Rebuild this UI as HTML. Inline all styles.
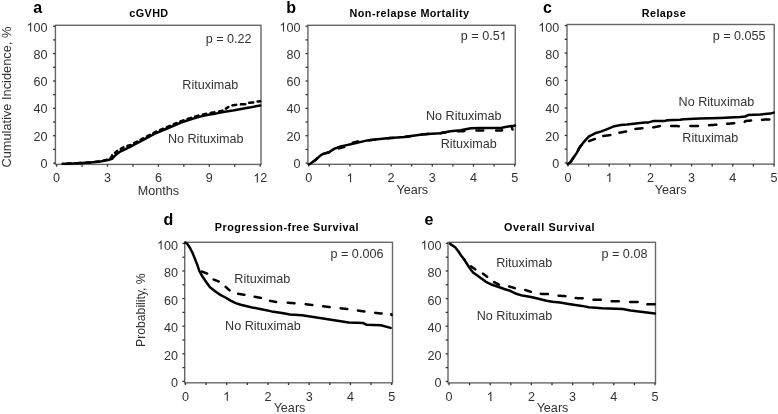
<!DOCTYPE html>
<html><head><meta charset="utf-8"><title>Figure</title>
<style>
html,body{margin:0;padding:0;background:#fff;}
body{width:778px;height:414px;overflow:hidden;}
svg{display:block;}
text{font-family:"Liberation Sans",sans-serif;fill:#333;}
svg{will-change:transform;}
</style></head>
<body>
<svg width="778" height="414" viewBox="0 0 778 414">
<rect width="778" height="414" fill="#fff"/>
<rect x="55.4" y="25.3" width="205.6" height="139.1" fill="none" stroke="#666" stroke-width="1.4"/>
<line x1="53.1" y1="26.20" x2="55.4" y2="26.20" stroke="#333" stroke-width="1.3"/>
<line x1="53.1" y1="39.89" x2="55.4" y2="39.89" stroke="#333" stroke-width="1.3"/>
<line x1="53.1" y1="53.58" x2="55.4" y2="53.58" stroke="#333" stroke-width="1.3"/>
<line x1="53.1" y1="67.27" x2="55.4" y2="67.27" stroke="#333" stroke-width="1.3"/>
<line x1="53.1" y1="80.96" x2="55.4" y2="80.96" stroke="#333" stroke-width="1.3"/>
<line x1="53.1" y1="94.65" x2="55.4" y2="94.65" stroke="#333" stroke-width="1.3"/>
<line x1="53.1" y1="108.34" x2="55.4" y2="108.34" stroke="#333" stroke-width="1.3"/>
<line x1="53.1" y1="122.03" x2="55.4" y2="122.03" stroke="#333" stroke-width="1.3"/>
<line x1="53.1" y1="135.72" x2="55.4" y2="135.72" stroke="#333" stroke-width="1.3"/>
<line x1="53.1" y1="149.41" x2="55.4" y2="149.41" stroke="#333" stroke-width="1.3"/>
<line x1="53.1" y1="163.10" x2="55.4" y2="163.10" stroke="#333" stroke-width="1.3"/>
<path d="M763,0H583V1147Q518,1085 412.5,1023T223,930V1104Q374,1175 487,1276T647,1472H763V0Z" transform="translate(26.48,31.60) scale(0.006152,-0.006152)" fill="#333"/>
<text x="33.48" y="31.6" font-size="12.6" text-anchor="start">00</text>
<text x="47.5" y="58.86" font-size="12.6" text-anchor="end">80</text>
<text x="47.5" y="86.12" font-size="12.6" text-anchor="end">60</text>
<text x="47.5" y="113.38" font-size="12.6" text-anchor="end">40</text>
<text x="47.5" y="140.64" font-size="12.6" text-anchor="end">20</text>
<text x="47.5" y="167.9" font-size="12.6" text-anchor="end">0</text>
<line x1="56.60" y1="164.4" x2="56.60" y2="166.70000000000002" stroke="#333" stroke-width="1.3"/>
<line x1="82.05" y1="164.4" x2="82.05" y2="166.70000000000002" stroke="#333" stroke-width="1.3"/>
<line x1="107.50" y1="164.4" x2="107.50" y2="166.70000000000002" stroke="#333" stroke-width="1.3"/>
<line x1="132.95" y1="164.4" x2="132.95" y2="166.70000000000002" stroke="#333" stroke-width="1.3"/>
<line x1="158.40" y1="164.4" x2="158.40" y2="166.70000000000002" stroke="#333" stroke-width="1.3"/>
<line x1="183.85" y1="164.4" x2="183.85" y2="166.70000000000002" stroke="#333" stroke-width="1.3"/>
<line x1="209.30" y1="164.4" x2="209.30" y2="166.70000000000002" stroke="#333" stroke-width="1.3"/>
<line x1="234.75" y1="164.4" x2="234.75" y2="166.70000000000002" stroke="#333" stroke-width="1.3"/>
<line x1="260.20" y1="164.4" x2="260.20" y2="166.70000000000002" stroke="#333" stroke-width="1.3"/>
<text x="56.6" y="182.4" font-size="12.6" text-anchor="middle">0</text>
<text x="107.5" y="182.4" font-size="12.6" text-anchor="middle">3</text>
<text x="158.4" y="182.4" font-size="12.6" text-anchor="middle">6</text>
<text x="209.3" y="182.4" font-size="12.6" text-anchor="middle">9</text>
<path d="M763,0H583V1147Q518,1085 412.5,1023T223,930V1104Q374,1175 487,1276T647,1472H763V0Z" transform="translate(253.19,182.40) scale(0.006152,-0.006152)" fill="#333"/>
<text x="260.2" y="182.4" font-size="12.6" text-anchor="start">2</text>
<rect x="307.9" y="25.3" width="207.39999999999998" height="139.0" fill="none" stroke="#666" stroke-width="1.4"/>
<line x1="305.59999999999997" y1="26.20" x2="307.9" y2="26.20" stroke="#333" stroke-width="1.3"/>
<line x1="305.59999999999997" y1="39.89" x2="307.9" y2="39.89" stroke="#333" stroke-width="1.3"/>
<line x1="305.59999999999997" y1="53.58" x2="307.9" y2="53.58" stroke="#333" stroke-width="1.3"/>
<line x1="305.59999999999997" y1="67.27" x2="307.9" y2="67.27" stroke="#333" stroke-width="1.3"/>
<line x1="305.59999999999997" y1="80.96" x2="307.9" y2="80.96" stroke="#333" stroke-width="1.3"/>
<line x1="305.59999999999997" y1="94.65" x2="307.9" y2="94.65" stroke="#333" stroke-width="1.3"/>
<line x1="305.59999999999997" y1="108.34" x2="307.9" y2="108.34" stroke="#333" stroke-width="1.3"/>
<line x1="305.59999999999997" y1="122.03" x2="307.9" y2="122.03" stroke="#333" stroke-width="1.3"/>
<line x1="305.59999999999997" y1="135.72" x2="307.9" y2="135.72" stroke="#333" stroke-width="1.3"/>
<line x1="305.59999999999997" y1="149.41" x2="307.9" y2="149.41" stroke="#333" stroke-width="1.3"/>
<line x1="305.59999999999997" y1="163.10" x2="307.9" y2="163.10" stroke="#333" stroke-width="1.3"/>
<path d="M763,0H583V1147Q518,1085 412.5,1023T223,930V1104Q374,1175 487,1276T647,1472H763V0Z" transform="translate(279.38,31.60) scale(0.006152,-0.006152)" fill="#333"/>
<text x="286.38" y="31.6" font-size="12.6" text-anchor="start">00</text>
<text x="300.4" y="58.86" font-size="12.6" text-anchor="end">80</text>
<text x="300.4" y="86.12" font-size="12.6" text-anchor="end">60</text>
<text x="300.4" y="113.38" font-size="12.6" text-anchor="end">40</text>
<text x="300.4" y="140.64" font-size="12.6" text-anchor="end">20</text>
<text x="300.4" y="167.9" font-size="12.6" text-anchor="end">0</text>
<line x1="308.70" y1="164.3" x2="308.70" y2="166.60000000000002" stroke="#333" stroke-width="1.3"/>
<line x1="329.30" y1="164.3" x2="329.30" y2="166.60000000000002" stroke="#333" stroke-width="1.3"/>
<line x1="349.90" y1="164.3" x2="349.90" y2="166.60000000000002" stroke="#333" stroke-width="1.3"/>
<line x1="370.50" y1="164.3" x2="370.50" y2="166.60000000000002" stroke="#333" stroke-width="1.3"/>
<line x1="391.10" y1="164.3" x2="391.10" y2="166.60000000000002" stroke="#333" stroke-width="1.3"/>
<line x1="411.70" y1="164.3" x2="411.70" y2="166.60000000000002" stroke="#333" stroke-width="1.3"/>
<line x1="432.30" y1="164.3" x2="432.30" y2="166.60000000000002" stroke="#333" stroke-width="1.3"/>
<line x1="452.90" y1="164.3" x2="452.90" y2="166.60000000000002" stroke="#333" stroke-width="1.3"/>
<line x1="473.50" y1="164.3" x2="473.50" y2="166.60000000000002" stroke="#333" stroke-width="1.3"/>
<line x1="494.10" y1="164.3" x2="494.10" y2="166.60000000000002" stroke="#333" stroke-width="1.3"/>
<line x1="514.70" y1="164.3" x2="514.70" y2="166.60000000000002" stroke="#333" stroke-width="1.3"/>
<text x="308.7" y="182.3" font-size="12.6" text-anchor="middle">0</text>
<path d="M763,0H583V1147Q518,1085 412.5,1023T223,930V1104Q374,1175 487,1276T647,1472H763V0Z" transform="translate(346.40,182.30) scale(0.006152,-0.006152)" fill="#333"/>
<text x="391.1" y="182.3" font-size="12.6" text-anchor="middle">2</text>
<text x="432.3" y="182.3" font-size="12.6" text-anchor="middle">3</text>
<text x="473.5" y="182.3" font-size="12.6" text-anchor="middle">4</text>
<text x="514.7" y="182.3" font-size="12.6" text-anchor="middle">5</text>
<rect x="567.0" y="24.5" width="207.20000000000005" height="139.6" fill="none" stroke="#666" stroke-width="1.4"/>
<line x1="564.7" y1="25.60" x2="567.0" y2="25.60" stroke="#333" stroke-width="1.3"/>
<line x1="564.7" y1="39.33" x2="567.0" y2="39.33" stroke="#333" stroke-width="1.3"/>
<line x1="564.7" y1="53.06" x2="567.0" y2="53.06" stroke="#333" stroke-width="1.3"/>
<line x1="564.7" y1="66.79" x2="567.0" y2="66.79" stroke="#333" stroke-width="1.3"/>
<line x1="564.7" y1="80.52" x2="567.0" y2="80.52" stroke="#333" stroke-width="1.3"/>
<line x1="564.7" y1="94.25" x2="567.0" y2="94.25" stroke="#333" stroke-width="1.3"/>
<line x1="564.7" y1="107.98" x2="567.0" y2="107.98" stroke="#333" stroke-width="1.3"/>
<line x1="564.7" y1="121.71" x2="567.0" y2="121.71" stroke="#333" stroke-width="1.3"/>
<line x1="564.7" y1="135.44" x2="567.0" y2="135.44" stroke="#333" stroke-width="1.3"/>
<line x1="564.7" y1="149.17" x2="567.0" y2="149.17" stroke="#333" stroke-width="1.3"/>
<line x1="564.7" y1="162.90" x2="567.0" y2="162.90" stroke="#333" stroke-width="1.3"/>
<path d="M763,0H583V1147Q518,1085 412.5,1023T223,930V1104Q374,1175 487,1276T647,1472H763V0Z" transform="translate(538.28,31.70) scale(0.006152,-0.006152)" fill="#333"/>
<text x="545.28" y="31.7" font-size="12.6" text-anchor="start">00</text>
<text x="559.3" y="58.96" font-size="12.6" text-anchor="end">80</text>
<text x="559.3" y="86.22" font-size="12.6" text-anchor="end">60</text>
<text x="559.3" y="113.48" font-size="12.6" text-anchor="end">40</text>
<text x="559.3" y="140.74" font-size="12.6" text-anchor="end">20</text>
<text x="559.3" y="168.0" font-size="12.6" text-anchor="end">0</text>
<line x1="568.00" y1="164.1" x2="568.00" y2="166.4" stroke="#333" stroke-width="1.3"/>
<line x1="588.60" y1="164.1" x2="588.60" y2="166.4" stroke="#333" stroke-width="1.3"/>
<line x1="609.20" y1="164.1" x2="609.20" y2="166.4" stroke="#333" stroke-width="1.3"/>
<line x1="629.80" y1="164.1" x2="629.80" y2="166.4" stroke="#333" stroke-width="1.3"/>
<line x1="650.40" y1="164.1" x2="650.40" y2="166.4" stroke="#333" stroke-width="1.3"/>
<line x1="671.00" y1="164.1" x2="671.00" y2="166.4" stroke="#333" stroke-width="1.3"/>
<line x1="691.60" y1="164.1" x2="691.60" y2="166.4" stroke="#333" stroke-width="1.3"/>
<line x1="712.20" y1="164.1" x2="712.20" y2="166.4" stroke="#333" stroke-width="1.3"/>
<line x1="732.80" y1="164.1" x2="732.80" y2="166.4" stroke="#333" stroke-width="1.3"/>
<line x1="753.40" y1="164.1" x2="753.40" y2="166.4" stroke="#333" stroke-width="1.3"/>
<line x1="774.00" y1="164.1" x2="774.00" y2="166.4" stroke="#333" stroke-width="1.3"/>
<text x="568.0" y="182.1" font-size="12.6" text-anchor="middle">0</text>
<path d="M763,0H583V1147Q518,1085 412.5,1023T223,930V1104Q374,1175 487,1276T647,1472H763V0Z" transform="translate(605.70,182.10) scale(0.006152,-0.006152)" fill="#333"/>
<text x="650.4" y="182.1" font-size="12.6" text-anchor="middle">2</text>
<text x="691.6" y="182.1" font-size="12.6" text-anchor="middle">3</text>
<text x="732.8" y="182.1" font-size="12.6" text-anchor="middle">4</text>
<text x="774.0" y="182.1" font-size="12.6" text-anchor="middle">5</text>
<rect x="184.7" y="242.3" width="207.8" height="140.5" fill="none" stroke="#666" stroke-width="1.4"/>
<line x1="182.39999999999998" y1="243.40" x2="184.7" y2="243.40" stroke="#333" stroke-width="1.3"/>
<line x1="182.39999999999998" y1="257.20" x2="184.7" y2="257.20" stroke="#333" stroke-width="1.3"/>
<line x1="182.39999999999998" y1="271.00" x2="184.7" y2="271.00" stroke="#333" stroke-width="1.3"/>
<line x1="182.39999999999998" y1="284.80" x2="184.7" y2="284.80" stroke="#333" stroke-width="1.3"/>
<line x1="182.39999999999998" y1="298.60" x2="184.7" y2="298.60" stroke="#333" stroke-width="1.3"/>
<line x1="182.39999999999998" y1="312.40" x2="184.7" y2="312.40" stroke="#333" stroke-width="1.3"/>
<line x1="182.39999999999998" y1="326.20" x2="184.7" y2="326.20" stroke="#333" stroke-width="1.3"/>
<line x1="182.39999999999998" y1="340.00" x2="184.7" y2="340.00" stroke="#333" stroke-width="1.3"/>
<line x1="182.39999999999998" y1="353.80" x2="184.7" y2="353.80" stroke="#333" stroke-width="1.3"/>
<line x1="182.39999999999998" y1="367.60" x2="184.7" y2="367.60" stroke="#333" stroke-width="1.3"/>
<line x1="182.39999999999998" y1="381.40" x2="184.7" y2="381.40" stroke="#333" stroke-width="1.3"/>
<path d="M763,0H583V1147Q518,1085 412.5,1023T223,930V1104Q374,1175 487,1276T647,1472H763V0Z" transform="translate(156.98,249.60) scale(0.006152,-0.006152)" fill="#333"/>
<text x="163.98" y="249.6" font-size="12.6" text-anchor="start">00</text>
<text x="178.0" y="277.14" font-size="12.6" text-anchor="end">80</text>
<text x="178.0" y="304.68" font-size="12.6" text-anchor="end">60</text>
<text x="178.0" y="332.22" font-size="12.6" text-anchor="end">40</text>
<text x="178.0" y="359.76" font-size="12.6" text-anchor="end">20</text>
<text x="178.0" y="387.3" font-size="12.6" text-anchor="end">0</text>
<line x1="185.40" y1="382.8" x2="185.40" y2="385.1" stroke="#333" stroke-width="1.3"/>
<line x1="206.03" y1="382.8" x2="206.03" y2="385.1" stroke="#333" stroke-width="1.3"/>
<line x1="226.66" y1="382.8" x2="226.66" y2="385.1" stroke="#333" stroke-width="1.3"/>
<line x1="247.29" y1="382.8" x2="247.29" y2="385.1" stroke="#333" stroke-width="1.3"/>
<line x1="267.92" y1="382.8" x2="267.92" y2="385.1" stroke="#333" stroke-width="1.3"/>
<line x1="288.55" y1="382.8" x2="288.55" y2="385.1" stroke="#333" stroke-width="1.3"/>
<line x1="309.18" y1="382.8" x2="309.18" y2="385.1" stroke="#333" stroke-width="1.3"/>
<line x1="329.81" y1="382.8" x2="329.81" y2="385.1" stroke="#333" stroke-width="1.3"/>
<line x1="350.44" y1="382.8" x2="350.44" y2="385.1" stroke="#333" stroke-width="1.3"/>
<line x1="371.07" y1="382.8" x2="371.07" y2="385.1" stroke="#333" stroke-width="1.3"/>
<line x1="391.70" y1="382.8" x2="391.70" y2="385.1" stroke="#333" stroke-width="1.3"/>
<text x="185.4" y="400.8" font-size="12.6" text-anchor="middle">0</text>
<path d="M763,0H583V1147Q518,1085 412.5,1023T223,930V1104Q374,1175 487,1276T647,1472H763V0Z" transform="translate(223.16,400.80) scale(0.006152,-0.006152)" fill="#333"/>
<text x="267.92" y="400.8" font-size="12.6" text-anchor="middle">2</text>
<text x="309.18" y="400.8" font-size="12.6" text-anchor="middle">3</text>
<text x="350.44" y="400.8" font-size="12.6" text-anchor="middle">4</text>
<text x="391.7" y="400.8" font-size="12.6" text-anchor="middle">5</text>
<rect x="448.0" y="242.3" width="207.5" height="140.59999999999997" fill="none" stroke="#666" stroke-width="1.4"/>
<line x1="445.7" y1="243.40" x2="448.0" y2="243.40" stroke="#333" stroke-width="1.3"/>
<line x1="445.7" y1="257.20" x2="448.0" y2="257.20" stroke="#333" stroke-width="1.3"/>
<line x1="445.7" y1="271.00" x2="448.0" y2="271.00" stroke="#333" stroke-width="1.3"/>
<line x1="445.7" y1="284.80" x2="448.0" y2="284.80" stroke="#333" stroke-width="1.3"/>
<line x1="445.7" y1="298.60" x2="448.0" y2="298.60" stroke="#333" stroke-width="1.3"/>
<line x1="445.7" y1="312.40" x2="448.0" y2="312.40" stroke="#333" stroke-width="1.3"/>
<line x1="445.7" y1="326.20" x2="448.0" y2="326.20" stroke="#333" stroke-width="1.3"/>
<line x1="445.7" y1="340.00" x2="448.0" y2="340.00" stroke="#333" stroke-width="1.3"/>
<line x1="445.7" y1="353.80" x2="448.0" y2="353.80" stroke="#333" stroke-width="1.3"/>
<line x1="445.7" y1="367.60" x2="448.0" y2="367.60" stroke="#333" stroke-width="1.3"/>
<line x1="445.7" y1="381.40" x2="448.0" y2="381.40" stroke="#333" stroke-width="1.3"/>
<path d="M763,0H583V1147Q518,1085 412.5,1023T223,930V1104Q374,1175 487,1276T647,1472H763V0Z" transform="translate(420.58,249.50) scale(0.006152,-0.006152)" fill="#333"/>
<text x="427.58" y="249.5" font-size="12.6" text-anchor="start">00</text>
<text x="441.6" y="277.06" font-size="12.6" text-anchor="end">80</text>
<text x="441.6" y="304.62" font-size="12.6" text-anchor="end">60</text>
<text x="441.6" y="332.18" font-size="12.6" text-anchor="end">40</text>
<text x="441.6" y="359.74" font-size="12.6" text-anchor="end">20</text>
<text x="441.6" y="387.3" font-size="12.6" text-anchor="end">0</text>
<line x1="449.00" y1="382.9" x2="449.00" y2="385.2" stroke="#333" stroke-width="1.3"/>
<line x1="469.60" y1="382.9" x2="469.60" y2="385.2" stroke="#333" stroke-width="1.3"/>
<line x1="490.20" y1="382.9" x2="490.20" y2="385.2" stroke="#333" stroke-width="1.3"/>
<line x1="510.80" y1="382.9" x2="510.80" y2="385.2" stroke="#333" stroke-width="1.3"/>
<line x1="531.40" y1="382.9" x2="531.40" y2="385.2" stroke="#333" stroke-width="1.3"/>
<line x1="552.00" y1="382.9" x2="552.00" y2="385.2" stroke="#333" stroke-width="1.3"/>
<line x1="572.60" y1="382.9" x2="572.60" y2="385.2" stroke="#333" stroke-width="1.3"/>
<line x1="593.20" y1="382.9" x2="593.20" y2="385.2" stroke="#333" stroke-width="1.3"/>
<line x1="613.80" y1="382.9" x2="613.80" y2="385.2" stroke="#333" stroke-width="1.3"/>
<line x1="634.40" y1="382.9" x2="634.40" y2="385.2" stroke="#333" stroke-width="1.3"/>
<line x1="655.00" y1="382.9" x2="655.00" y2="385.2" stroke="#333" stroke-width="1.3"/>
<text x="449.0" y="400.9" font-size="12.6" text-anchor="middle">0</text>
<path d="M763,0H583V1147Q518,1085 412.5,1023T223,930V1104Q374,1175 487,1276T647,1472H763V0Z" transform="translate(486.70,400.90) scale(0.006152,-0.006152)" fill="#333"/>
<text x="531.4" y="400.9" font-size="12.6" text-anchor="middle">2</text>
<text x="572.6" y="400.9" font-size="12.6" text-anchor="middle">3</text>
<text x="613.8" y="400.9" font-size="12.6" text-anchor="middle">4</text>
<text x="655.0" y="400.9" font-size="12.6" text-anchor="middle">5</text>
<text x="158.5" y="194.5" font-size="12.6" text-anchor="middle">Months</text>
<text x="412.3" y="194.0" font-size="12.6" text-anchor="middle">Years</text>
<text x="670.6" y="194.0" font-size="12.6" text-anchor="middle">Years</text>
<text x="289.5" y="412.2" font-size="12.6" text-anchor="middle">Years</text>
<text x="552.5" y="412.0" font-size="12.6" text-anchor="middle">Years</text>
<text transform="translate(11.2,97.1) rotate(-90)" font-size="12.8" text-anchor="middle">Cumulative Incidence, %</text>
<text transform="translate(145.0,310.1) rotate(-90)" font-size="12.2" text-anchor="middle">Probability, %</text>
<text x="33.2" y="12.6" font-size="16" text-anchor="start" font-weight="bold" style="fill:#000">a</text>
<text x="286.2" y="12.8" font-size="16" text-anchor="start" font-weight="bold" style="fill:#000">b</text>
<text x="543.0" y="12.7" font-size="16" text-anchor="start" font-weight="bold" style="fill:#000">c</text>
<text x="163.4" y="225.3" font-size="16" text-anchor="start" font-weight="bold" style="fill:#000">d</text>
<text x="424.5" y="225.0" font-size="16" text-anchor="start" font-weight="bold" style="fill:#000">e</text>
<text x="148.9" y="17.3" font-size="10.8" text-anchor="middle" font-weight="bold" style="fill:#000" letter-spacing="0.45">cGVHD</text>
<text x="409.5" y="17.1" font-size="10.8" text-anchor="middle" font-weight="bold" style="fill:#000" letter-spacing="0.45">Non-relapse Mortality</text>
<text x="664.0" y="17.3" font-size="10.8" text-anchor="middle" font-weight="bold" style="fill:#000" letter-spacing="0.45">Relapse</text>
<text x="286.9" y="231.0" font-size="10.8" text-anchor="middle" font-weight="bold" style="fill:#000" letter-spacing="0.52">Progression-free Survival</text>
<text x="549.6" y="231.0" font-size="10.8" text-anchor="middle" font-weight="bold" style="fill:#000" letter-spacing="0.6">Overall Survival</text>
<text x="251.6" y="42.6" font-size="12.6" text-anchor="end">p = 0.22</text>
<text x="460.81" y="40.2" font-size="12.6" text-anchor="start">p&#160;=&#160;0.5</text>
<path d="M763,0H583V1147Q518,1085 412.5,1023T223,930V1104Q374,1175 487,1276T647,1472H763V0Z" transform="translate(499.69,40.20) scale(0.006152,-0.006152)" fill="#333"/>
<text x="765.6" y="40.1" font-size="12.6" text-anchor="end">p = 0.055</text>
<text x="383.4" y="257.8" font-size="12.6" text-anchor="end">p = 0.006</text>
<text x="647.4" y="257.6" font-size="12.6" text-anchor="end">p = 0.08</text>
<text x="182.3" y="88.9" font-size="12.6" text-anchor="start">Rituximab</text>
<text x="167.9" y="142.7" font-size="12.6" text-anchor="start">No Rituximab</text>
<text x="426.0" y="120.4" font-size="12.6" text-anchor="start">No Rituximab</text>
<text x="440.7" y="147.9" font-size="12.6" text-anchor="start">Rituximab</text>
<text x="678.6" y="105.7" font-size="12.6" text-anchor="start">No Rituximab</text>
<text x="682.3" y="142.3" font-size="12.6" text-anchor="start">Rituximab</text>
<text x="234.3" y="282.8" font-size="12.6" text-anchor="start">Rituximab</text>
<text x="225.1" y="329.6" font-size="12.6" text-anchor="start">No Rituximab</text>
<text x="496.2" y="266.9" font-size="12.6" text-anchor="start">Rituximab</text>
<text x="476.7" y="320.4" font-size="12.6" text-anchor="start">No Rituximab</text>
<polyline points="62.70,163.80 73.00,163.60 82.00,163.00 91.00,162.40 100.00,161.60 105.40,160.50 109.00,159.70 112.00,158.90 114.00,156.60 116.80,154.00 119.70,151.90 123.40,150.20 127.00,148.30 130.60,146.60 134.20,144.60 138.00,142.70 144.20,139.30 156.20,133.00 168.30,128.00 180.40,122.80 192.50,118.70 200.00,116.60 208.20,114.70 216.40,113.40 224.70,111.70 232.90,110.50 241.10,109.00 249.30,107.60 257.60,105.90 260.20,105.60" fill="none" stroke="#000" stroke-width="2.5" stroke-linejoin="round" stroke-linecap="round"/>
<path d="M67.55,163.61 L67.75,163.60 L67.95,163.60 L68.15,163.59 L68.35,163.59 L68.56,163.59 L68.76,163.58 L68.96,163.58 L69.16,163.57 L69.36,163.57 L69.57,163.57 L69.77,163.56 L69.97,163.56 L70.17,163.55 L70.37,163.55 L70.58,163.55 L70.78,163.54 L70.98,163.54 L71.18,163.54 L71.38,163.53 L71.59,163.53 L71.79,163.52 M76.80,163.25 L77.00,163.23 L77.20,163.22 L77.40,163.21 L77.60,163.19 L77.80,163.18 L78.00,163.17 L78.20,163.15 L78.40,163.14 L78.60,163.13 L78.80,163.11 L79.00,163.10 L79.20,163.09 L79.40,163.07 L79.60,163.06 L79.80,163.05 L80.00,163.03 L80.20,163.02 L80.40,163.01 L80.60,162.99 L80.80,162.98 M86.00,162.63 L86.20,162.62 L86.40,162.61 L86.60,162.59 L86.80,162.58 L87.00,162.57 L87.20,162.55 L87.40,162.54 L87.60,162.53 L87.80,162.51 L88.00,162.50 L88.20,162.49 L88.40,162.47 L88.60,162.46 L88.80,162.45 L89.00,162.43 L89.20,162.42 L89.40,162.41 L89.60,162.39 L89.80,162.38 L90.00,162.37 M95.00,161.90 L95.20,161.88 L95.40,161.86 L95.60,161.84 L95.80,161.82 L96.00,161.80 L96.20,161.78 L96.40,161.76 L96.60,161.74 L96.80,161.72 L97.00,161.70 L97.20,161.68 L97.40,161.66 L97.60,161.64 L97.80,161.62 L98.00,161.60 L98.20,161.58 L98.40,161.56 L98.60,161.54 L98.80,161.52 M103.40,160.64 L103.60,160.60 L103.80,160.56 L104.00,160.51 L104.20,160.47 L104.40,160.42 L104.60,160.38 L104.80,160.33 L105.00,160.29 L105.20,160.24 L105.40,160.20 L105.61,160.14 L105.82,160.07 L106.04,160.01 L106.25,159.94 L106.46,159.88 L106.67,159.81 M110.60,158.06 L110.80,157.93 L111.00,157.80 L111.09,157.60 L111.19,157.40 L111.28,157.20 L111.37,157.00 L111.46,156.80 L111.56,156.60 L111.65,156.40 L111.74,156.20 L111.84,156.00 L111.93,155.80 L112.02,155.60 L112.11,155.40 M115.05,152.73 L115.27,152.54 L115.49,152.35 L115.71,152.15 L115.93,151.96 L116.15,151.77 L116.36,151.58 L116.58,151.39 L116.80,151.20 L117.01,151.07 L117.21,150.94 M120.73,148.84 L120.93,148.73 L121.14,148.62 L121.34,148.51 L121.55,148.40 L121.76,148.29 L121.96,148.18 L122.17,148.07 L122.37,147.96 L122.58,147.84 L122.78,147.73 L122.99,147.62 L123.19,147.51 L123.40,147.40 M127.42,145.88 L127.64,145.82 L127.85,145.76 L128.06,145.71 L128.27,145.65 L128.48,145.59 L128.69,145.53 L128.91,145.47 L129.12,145.41 L129.33,145.35 L129.54,145.29 L129.75,145.24 L129.96,145.18 L130.18,145.12 L130.39,145.06 L130.60,145.00 M134.20,143.00 L134.40,142.91 L134.60,142.81 L134.80,142.72 L135.00,142.62 L135.20,142.53 L135.40,142.43 L135.60,142.34 L135.80,142.24 L136.00,142.15 L136.20,142.05 L136.40,141.96 L136.60,141.86 L136.80,141.77 L137.00,141.67 M140.69,139.73 L140.89,139.61 L141.10,139.50 L141.31,139.39 L141.51,139.27 L141.72,139.16 L141.93,139.05 L142.13,138.93 L142.34,138.82 L142.55,138.71 L142.75,138.59 L142.96,138.48 L143.17,138.37 L143.37,138.25 M147.00,136.35 L147.20,136.25 L147.40,136.15 L147.60,136.04 L147.80,135.94 L148.00,135.84 L148.20,135.73 L148.40,135.63 L148.60,135.53 L148.80,135.42 L149.00,135.32 L149.20,135.22 L149.40,135.11 L149.60,135.01 L149.80,134.91 M153.40,133.05 L153.60,132.94 L153.80,132.84 L154.00,132.74 L154.20,132.63 L154.40,132.53 L154.60,132.43 L154.80,132.32 L155.00,132.22 L155.20,132.12 L155.40,132.01 L155.60,131.91 L155.80,131.81 L156.00,131.70 L156.20,131.60 M160.03,130.02 L160.23,129.93 L160.44,129.85 L160.64,129.77 L160.84,129.68 L161.04,129.60 L161.24,129.52 L161.44,129.43 L161.65,129.35 L161.85,129.27 L162.05,129.18 L162.25,129.10 L162.45,129.02 L162.65,128.93 L162.85,128.85 L163.06,128.77 M166.89,127.18 L167.09,127.10 L167.29,127.02 L167.49,126.93 L167.70,126.85 L167.90,126.77 L168.10,126.68 L168.30,126.60 L168.50,126.51 L168.70,126.43 L168.91,126.34 L169.11,126.25 L169.31,126.17 L169.51,126.08 L169.71,125.99 L169.91,125.91 M173.75,124.26 L173.95,124.17 L174.15,124.09 L174.35,124.00 L174.55,123.91 L174.75,123.83 L174.96,123.74 L175.16,123.65 L175.36,123.57 L175.56,123.48 L175.76,123.39 L175.96,123.31 L176.17,123.22 L176.37,123.13 L176.57,123.05 M180.40,121.40 L180.60,121.33 L180.80,121.26 L181.00,121.20 L181.21,121.13 L181.41,121.06 L181.61,120.99 L181.81,120.92 L182.01,120.85 L182.22,120.79 L182.42,120.72 L182.62,120.65 L182.82,120.58 L183.02,120.51 L183.22,120.44 L183.43,120.38 L183.63,120.31 M187.66,118.94 L187.86,118.87 L188.06,118.80 L188.27,118.73 L188.47,118.67 L188.67,118.60 L188.87,118.53 L189.07,118.46 L189.27,118.39 L189.47,118.33 L189.68,118.26 L189.88,118.19 L190.08,118.12 L190.28,118.05 L190.48,117.98 L190.69,117.91 L190.89,117.85 M195.14,116.56 L195.34,116.51 L195.54,116.45 L195.74,116.39 L195.95,116.34 L196.15,116.28 L196.35,116.22 L196.55,116.16 L196.76,116.11 L196.96,116.05 L197.16,115.99 L197.36,115.94 L197.57,115.88 L197.77,115.82 L197.97,115.77 L198.18,115.71 L198.38,115.65 M202.87,114.53 L203.07,114.49 L203.28,114.44 L203.48,114.39 L203.69,114.34 L203.89,114.30 L204.10,114.25 L204.31,114.20 L204.51,114.16 L204.72,114.11 L204.92,114.06 L205.12,114.01 L205.33,113.97 L205.53,113.92 L205.74,113.87 L205.94,113.82 L206.15,113.78 M210.80,112.89 L211.00,112.86 L211.20,112.82 L211.40,112.79 L211.60,112.76 L211.80,112.73 L212.00,112.70 L212.20,112.67 L212.40,112.63 L212.60,112.60 L212.80,112.57 L213.00,112.54 L213.20,112.51 L213.40,112.48 L213.60,112.44 L213.80,112.41 L214.00,112.38 L214.20,112.35 L214.40,112.32 M219.10,111.42 L219.30,111.38 L219.51,111.33 L219.72,111.29 L219.93,111.24 L220.13,111.20 L220.34,111.16 L220.55,111.11 L220.76,111.07 L220.96,111.02 L221.17,110.98 L221.38,110.93 L221.59,110.89 L221.79,110.84 L222.00,110.80 L222.21,110.70 L222.42,110.60 M225.94,108.61 L226.15,108.47 L226.35,108.33 L226.56,108.19 L226.76,108.05 L226.97,107.91 L227.18,107.76 L227.38,107.62 L227.59,107.48 L227.79,107.34 L228.00,107.20 L228.20,107.09 L228.40,106.97 M232.40,105.38 L232.60,105.35 L232.80,105.32 L233.00,105.29 L233.20,105.26 L233.40,105.24 L233.60,105.21 L233.80,105.18 L234.00,105.15 L234.20,105.12 L234.40,105.10 L234.60,105.07 L234.80,105.04 L235.00,105.01 L235.20,104.98 L235.40,104.96 L235.60,104.93 L235.80,104.90 L236.01,104.87 L236.21,104.84 M240.94,104.36 L241.15,104.35 L241.36,104.34 L241.56,104.34 L241.77,104.33 L241.97,104.33 L242.18,104.32 L242.39,104.31 L242.59,104.31 L242.80,104.30 L243.01,104.29 L243.21,104.29 L243.42,104.28 L243.62,104.28 L243.83,104.27 L244.04,104.26 L244.24,104.26 L244.45,104.25 L244.66,104.24 L244.86,104.24 L245.07,104.23 L245.28,104.23 M249.10,102.72 L249.30,102.71 L249.50,102.70 L249.70,102.70 L249.90,102.69 L250.10,102.68 L250.30,102.67 L250.50,102.66 L250.70,102.65 L250.90,102.64 L251.10,102.63 L251.30,102.62 L251.50,102.61 L251.70,102.60 L251.90,102.59 L252.10,102.58 L252.30,102.57 L252.50,102.56 L252.70,102.55 L252.90,102.54 L253.10,102.53 L253.30,102.52 M257.60,101.60 L257.82,101.57 L258.03,101.55 L258.25,101.52 L258.47,101.50 L258.68,101.47 L258.90,101.45 L259.12,101.42 L259.33,101.40 L259.55,101.38 L259.77,101.35 L259.98,101.33 L260.20,101.30" fill="none" stroke="#000" stroke-width="2.5" stroke-linejoin="round" stroke-linecap="round"/>
<polyline points="309.20,164.20 310.20,163.80 315.40,160.00 320.60,155.40 323.20,153.90 328.90,152.20 334.10,148.90 339.30,146.80 346.60,145.10 351.80,144.00 357.00,142.70 362.10,141.60 367.30,140.40 377.70,139.30 387.00,138.30 404.30,137.00 423.60,134.30 440.00,133.30 450.30,131.30 460.60,130.20 470.80,128.30 481.10,128.10 491.40,128.10 501.70,127.80 506.80,126.70 514.00,125.70 515.00,125.50" fill="none" stroke="#000" stroke-width="2.5" stroke-linejoin="round" stroke-linecap="round"/>
<path d="M313.11,161.67 L313.32,161.52 L313.53,161.37 L313.74,161.22 L313.94,161.06 L314.15,160.91 L314.36,160.76 L314.57,160.61 L314.78,160.46 L314.98,160.30 L315.19,160.15 L315.40,160.00 L315.60,159.82 L315.80,159.65 L316.00,159.47 L316.20,159.29 L316.40,159.12 L316.60,158.94 L316.80,158.76 M324.42,153.58 L324.62,153.53 L324.83,153.47 L325.03,153.42 L325.24,153.36 L325.44,153.31 L325.64,153.26 L325.85,153.20 L326.05,153.15 L326.25,153.10 L326.46,153.04 L326.66,152.99 L326.86,152.94 L327.07,152.88 L327.27,152.83 L327.47,152.78 L327.68,152.72 L327.88,152.67 L328.09,152.61 L328.29,152.56 L328.49,152.51 L328.70,152.45 L328.90,152.40 L329.10,152.29 L329.30,152.18 L329.50,152.08 M338.68,148.37 L338.88,148.31 L339.09,148.26 L339.30,148.20 L339.50,148.15 L339.71,148.10 L339.91,148.05 L340.11,148.00 L340.31,147.95 L340.52,147.90 L340.72,147.85 L340.92,147.80 L341.12,147.75 L341.33,147.70 L341.53,147.65 L341.73,147.60 L341.94,147.55 L342.14,147.50 L342.34,147.45 L342.54,147.40 L342.75,147.35 L342.95,147.30 L343.15,147.25 L343.36,147.20 L343.56,147.15 L343.76,147.10 L343.96,147.05 L344.17,147.00 M352.63,142.69 L352.84,142.64 L353.05,142.59 L353.26,142.54 L353.46,142.48 L353.67,142.43 L353.88,142.38 L354.09,142.33 L354.30,142.28 L354.50,142.22 L354.71,142.17 L354.92,142.12 L355.13,142.07 L355.34,142.02 L355.54,141.96 L355.75,141.91 L355.96,141.86 L356.17,141.81 L356.38,141.76 L356.58,141.70 L356.79,141.65 L357.00,141.60 L357.20,141.59 L357.40,141.57 L357.60,141.56 L357.80,141.55 L358.00,141.53 L358.20,141.52 M369.14,140.21 L369.34,140.18 L369.54,140.16 L369.75,140.14 L369.95,140.12 L370.15,140.10 L370.36,140.08 L370.56,140.05 L370.77,140.03 L370.97,140.01 L371.17,139.99 L371.38,139.97 L371.58,139.95 L371.79,139.93 L371.99,139.90 L372.19,139.88 L372.40,139.86 L372.60,139.84 L372.81,139.82 L373.01,139.80 L373.21,139.77 L373.42,139.75 L373.62,139.73 L373.83,139.71 L374.03,139.69 L374.23,139.67 L374.44,139.65 L374.64,139.62 L374.85,139.60 L375.05,139.58 L375.25,139.56 M386.80,138.32 L387.00,138.30 L387.20,138.28 L387.40,138.27 L387.60,138.25 L387.80,138.24 L388.01,138.22 L388.21,138.21 L388.41,138.19 L388.61,138.18 L388.81,138.16 L389.01,138.15 L389.21,138.13 L389.41,138.12 L389.62,138.10 L389.82,138.09 L390.02,138.07 L390.22,138.06 L390.42,138.04 L390.62,138.03 L390.82,138.01 L391.02,138.00 L391.22,137.98 L391.43,137.97 L391.63,137.95 L391.83,137.94 L392.03,137.92 L392.23,137.91 L392.43,137.89 L392.63,137.88 L392.83,137.86 L393.03,137.85 M404.90,136.92 L405.10,136.89 L405.31,136.86 L405.51,136.83 L405.71,136.80 L405.91,136.78 L406.11,136.75 L406.31,136.72 L406.51,136.69 L406.71,136.66 L406.91,136.63 L407.11,136.61 L407.32,136.58 L407.52,136.55 L407.72,136.52 L407.92,136.49 L408.12,136.47 L408.32,136.44 L408.52,136.41 L408.72,136.38 L408.92,136.35 L409.12,136.32 L409.33,136.30 L409.53,136.27 L409.73,136.24 L409.93,136.21 L410.13,136.18 L410.33,136.16 L410.53,136.13 L410.73,136.10 M421.99,134.53 L422.19,134.50 L422.39,134.47 L422.59,134.44 L422.80,134.41 L423.00,134.38 L423.20,134.36 L423.40,134.33 L423.60,134.30 L423.80,134.29 L424.00,134.28 L424.21,134.26 L424.41,134.25 L424.61,134.24 L424.81,134.23 L425.02,134.21 L425.22,134.20 L425.42,134.19 L425.62,134.18 L425.83,134.16 L426.03,134.15 L426.23,134.14 L426.43,134.13 L426.64,134.11 L426.84,134.10 L427.04,134.09 L427.24,134.08 L427.45,134.07 L427.65,134.05 L427.85,134.04 L428.05,134.03 L428.26,134.02 M440.20,133.26 L440.40,133.23 L440.61,133.19 L440.81,133.16 L441.01,133.12 L441.21,133.09 L441.41,133.05 L441.62,133.02 L441.82,132.98 L442.02,132.95 L442.22,132.91 L442.42,132.88 L442.63,132.84 L442.83,132.81 L443.03,132.77 L443.23,132.74 L443.43,132.70 L443.64,132.66 L443.84,132.63 L444.04,132.59 L444.24,132.56 L444.44,132.52 L444.65,132.49 L444.85,132.45 L445.05,132.42 L445.25,132.38 L445.45,132.35 L445.65,132.31 L445.86,132.28 L446.06,132.24 M457.77,131.35 L457.97,131.35 L458.18,131.35 L458.38,131.34 L458.58,131.34 L458.78,131.34 L458.98,131.33 L459.19,131.33 L459.39,131.32 L459.59,131.32 L459.79,131.32 L459.99,131.31 L460.20,131.31 L460.40,131.30 L460.60,131.30 L460.81,131.29 L461.02,131.28 L461.22,131.27 L461.43,131.25 L461.64,131.24 L461.85,131.23 L462.05,131.22 L462.26,131.21 L462.47,131.20 L462.68,131.18 L462.88,131.17 L463.09,131.16 L463.30,131.15 L463.51,131.14 L463.72,131.13 L463.92,131.12 L464.13,131.10 L464.34,131.09 M476.42,130.60 L476.62,130.60 L476.82,130.60 L477.02,130.60 L477.22,130.60 L477.42,130.60 L477.62,130.60 L477.82,130.60 L478.02,130.60 L478.22,130.60 L478.42,130.60 L478.63,130.60 L478.83,130.60 L479.03,130.60 L479.23,130.60 L479.43,130.60 L479.63,130.60 L479.83,130.60 L480.03,130.60 L480.23,130.60 L480.43,130.60 L480.63,130.60 L480.83,130.60 L481.03,130.60 L481.23,130.60 L481.43,130.60 L481.64,130.60 L481.84,130.60 L482.04,130.60 L482.24,130.60 L482.44,130.60 L482.64,130.60 L482.84,130.60 L483.04,130.60 L483.24,130.60 M496.08,130.60 L496.28,130.60 L496.48,130.60 L496.68,130.60 L496.88,130.60 L497.09,130.60 L497.29,130.60 L497.49,130.60 L497.69,130.60 L497.89,130.60 L498.09,130.60 L498.29,130.60 L498.49,130.60 L498.69,130.60 L498.89,130.60 L499.09,130.60 L499.29,130.60 L499.49,130.60 L499.69,130.60 L499.89,130.60 L500.09,130.60 L500.30,130.60 L500.50,130.60 L500.70,130.60 L500.90,130.60 L501.10,130.60 L501.30,130.60 L501.50,130.60 L501.70,130.60 L501.89,130.38 L502.08,130.17 M511.09,126.26 L511.30,126.23 L511.50,126.20 L511.56,126.41 L511.62,126.61 L511.69,126.82 L511.75,127.03 L511.81,127.23 L511.88,127.44 L511.94,127.64 L512.00,127.85 L512.06,128.06 L512.12,128.26 L512.19,128.47 L512.25,128.68 L512.31,128.88 L512.38,129.09 L512.44,129.29 L512.50,129.50" fill="none" stroke="#000" stroke-width="2.5" stroke-linejoin="round" stroke-linecap="round"/>
<polyline points="567.70,164.00 570.30,162.40 573.40,157.70 576.60,153.10 579.70,147.30 582.80,143.20 585.90,139.60 589.00,136.40 592.10,134.80 595.00,133.30 601.40,131.40 607.90,128.80 614.30,126.20 620.70,125.00 627.10,124.60 633.60,123.70 640.00,123.00 645.00,122.60 648.60,122.40 653.80,120.90 664.00,121.10 667.30,120.20 680.00,119.80 683.50,119.20 700.00,118.60 720.10,117.90 740.10,117.00 745.10,116.50 748.10,115.10 760.20,114.50 770.20,113.60 773.70,112.60" fill="none" stroke="#000" stroke-width="2.5" stroke-linejoin="round" stroke-linecap="round"/>
<path d="M570.84,161.58 L570.97,161.38 L571.11,161.17 L571.24,160.97 L571.38,160.77 L571.51,160.56 L571.65,160.36 L571.78,160.15 L571.92,159.95 L572.05,159.74 L572.19,159.54 L572.32,159.33 L572.46,159.13 L572.59,158.93 L572.73,158.72 L572.86,158.52 L573.00,158.31 L573.13,158.11 L573.27,157.90 L573.40,157.70 L573.55,157.49 L573.69,157.28 L573.84,157.07 M578.37,149.79 L578.48,149.58 L578.59,149.37 L578.70,149.16 L578.81,148.96 L578.93,148.75 L579.04,148.54 L579.15,148.34 L579.26,148.13 L579.37,147.92 L579.48,147.71 L579.59,147.51 L579.70,147.30 L579.87,147.09 L580.04,146.89 L580.22,146.68 L580.39,146.48 L580.56,146.27 L580.73,146.07 L580.91,145.86 L581.08,145.66 L581.25,145.45 L581.42,145.24 M589.00,141.09 L589.20,141.01 L589.40,140.94 L589.60,140.87 L589.80,140.80 L590.00,140.73 L590.20,140.66 L590.40,140.59 L590.60,140.51 L590.80,140.44 L591.00,140.37 L591.20,140.30 L591.40,140.23 L591.60,140.16 L591.80,140.09 L592.00,140.01 L592.20,139.94 L592.40,139.87 L592.60,139.80 L592.80,139.73 L593.00,139.66 L593.20,139.59 L593.40,139.51 L593.60,139.44 L593.80,139.37 L594.00,139.30 L594.20,139.23 L594.40,139.16 L594.60,139.09 L594.80,139.01 M603.30,136.01 L603.50,135.98 L603.70,135.96 L603.90,135.93 L604.10,135.90 L604.30,135.88 L604.50,135.85 L604.70,135.82 L604.90,135.79 L605.10,135.77 L605.30,135.74 L605.50,135.71 L605.70,135.69 L605.90,135.66 L606.10,135.63 L606.30,135.60 L606.50,135.58 L606.70,135.55 L606.90,135.52 L607.10,135.50 L607.30,135.47 L607.50,135.44 L607.70,135.41 L607.90,135.39 L608.10,135.36 L608.30,135.33 L608.50,135.31 L608.70,135.28 L608.90,135.25 L609.10,135.22 L609.30,135.20 L609.50,135.17 L609.70,135.14 L609.90,135.12 L610.10,135.09 L610.30,135.06 M619.50,132.70 L619.70,132.66 L619.90,132.62 L620.10,132.58 L620.30,132.55 L620.50,132.51 L620.70,132.47 L620.90,132.43 L621.10,132.40 L621.30,132.36 L621.50,132.32 L621.70,132.28 L621.90,132.24 L622.10,132.21 L622.30,132.17 L622.50,132.13 L622.70,132.09 L622.90,132.06 L623.10,132.02 L623.30,131.98 L623.50,131.94 L623.70,131.90 L623.90,131.87 L624.10,131.83 L624.30,131.79 L624.50,131.75 L624.70,131.72 L624.90,131.68 L625.10,131.64 L625.30,131.60 L625.50,131.56 L625.70,131.53 L625.90,131.49 L626.10,131.45 M635.40,128.95 L635.60,128.93 L635.80,128.91 L636.00,128.89 L636.20,128.87 L636.40,128.85 L636.60,128.83 L636.80,128.81 L637.00,128.79 L637.20,128.77 L637.40,128.75 L637.60,128.72 L637.80,128.70 L638.00,128.68 L638.20,128.66 L638.40,128.64 L638.60,128.62 L638.80,128.60 L639.00,128.58 L639.20,128.56 L639.40,128.54 L639.60,128.52 L639.80,128.50 L640.00,128.47 L640.20,128.45 L640.40,128.43 L640.60,128.41 L640.80,128.39 L641.00,128.37 L641.20,128.35 L641.40,128.33 L641.60,128.31 L641.80,128.29 L642.00,128.27 L642.20,128.25 L642.40,128.22 M653.20,127.37 L653.40,127.34 L653.60,127.30 L653.80,127.26 L654.00,127.22 L654.20,127.18 L654.40,127.15 L654.60,127.11 L654.80,127.07 L655.00,127.03 L655.20,127.00 L655.40,126.96 L655.60,126.92 L655.80,126.88 L656.00,126.84 L656.20,126.81 L656.40,126.77 L656.60,126.73 L656.80,126.69 L657.00,126.66 L657.20,126.62 L657.40,126.58 L657.60,126.54 L657.80,126.50 L658.00,126.47 L658.20,126.43 L658.40,126.39 L658.60,126.35 L658.80,126.32 L659.00,126.28 L659.20,126.24 L659.40,126.20 L659.60,126.16 L659.80,126.13 M671.20,125.94 L671.40,125.94 L671.60,125.95 L671.80,125.95 L672.00,125.96 L672.20,125.97 L672.40,125.97 L672.60,125.98 L672.80,125.98 L673.00,125.99 L673.20,126.00 L673.40,126.00 L673.60,126.01 L673.80,126.01 L674.00,126.02 L674.20,126.03 L674.40,126.03 L674.60,126.04 L674.80,126.04 L675.00,126.05 L675.20,126.06 L675.40,126.06 L675.60,126.07 L675.80,126.07 L676.00,126.08 L676.20,126.09 L676.40,126.09 L676.60,126.10 L676.80,126.10 L677.00,126.11 L677.20,126.12 L677.40,126.12 L677.60,126.13 L677.80,126.13 L678.00,126.14 L678.20,126.15 L678.40,126.15 L678.60,126.16 L678.80,126.16 M690.38,126.11 L690.59,126.11 L690.79,126.11 L690.99,126.10 L691.20,126.10 L691.40,126.10 L691.60,126.10 L691.80,126.09 L692.00,126.09 L692.20,126.08 L692.40,126.08 L692.60,126.07 L692.80,126.07 L693.00,126.06 L693.20,126.06 L693.40,126.05 L693.60,126.05 L693.80,126.04 L694.00,126.04 L694.20,126.03 L694.40,126.03 L694.60,126.03 L694.80,126.02 L695.00,126.02 L695.20,126.01 L695.40,126.01 L695.60,126.00 L695.80,126.00 L696.00,125.99 L696.20,125.99 L696.40,125.98 L696.60,125.98 L696.80,125.97 L697.00,125.97 L697.20,125.97 L697.40,125.96 L697.60,125.96 L697.80,125.95 L698.00,125.95 M708.95,125.22 L709.16,125.20 L709.36,125.19 L709.56,125.17 L709.77,125.16 L709.97,125.14 L710.17,125.12 L710.38,125.11 L710.58,125.09 L710.78,125.08 L710.99,125.06 L711.19,125.05 L711.39,125.03 L711.60,125.02 L711.80,125.00 L712.00,124.99 L712.20,124.98 L712.40,124.96 L712.60,124.95 L712.80,124.94 L713.00,124.93 L713.20,124.91 L713.40,124.90 L713.60,124.89 L713.80,124.88 L714.00,124.87 L714.20,124.85 L714.40,124.84 L714.60,124.83 L714.80,124.82 L715.00,124.80 L715.20,124.79 L715.40,124.78 L715.60,124.77 L715.80,124.76 L716.00,124.74 L716.20,124.73 L716.40,124.72 M727.20,123.85 L727.40,123.83 L727.60,123.81 L727.80,123.80 L728.00,123.78 L728.20,123.76 L728.40,123.74 L728.60,123.72 L728.80,123.71 L729.00,123.69 L729.20,123.67 L729.40,123.65 L729.60,123.63 L729.80,123.62 L730.00,123.60 L730.20,123.58 L730.40,123.56 L730.60,123.54 L730.80,123.53 L731.00,123.51 L731.20,123.49 L731.40,123.47 L731.60,123.45 L731.80,123.44 L732.00,123.42 L732.20,123.40 L732.40,123.38 L732.60,123.35 L732.80,123.33 L733.01,123.31 L733.21,123.29 L733.41,123.26 L733.61,123.24 L733.81,123.22 L734.01,123.19 L734.22,123.17 M744.70,121.80 L744.90,121.60 L745.10,121.40 L745.30,121.20 L745.50,121.00 L745.70,120.98 L745.90,120.97 L746.10,120.95 L746.31,120.93 L746.51,120.92 L746.71,120.90 L746.91,120.88 L747.11,120.87 L747.31,120.85 L747.51,120.83 L747.72,120.82 L747.92,120.80 L748.12,120.78 L748.32,120.77 L748.52,120.75 L748.72,120.73 L748.92,120.72 L749.12,120.70 L749.33,120.68 L749.53,120.67 L749.73,120.65 L749.93,120.63 L750.13,120.62 L750.33,120.60 L750.53,120.58 L750.74,120.57 L750.94,120.55 L751.14,120.53 M762.00,119.71 L762.20,119.71 L762.40,119.70 L762.60,119.69 L762.80,119.68 L763.00,119.67 L763.20,119.66 L763.40,119.65 L763.60,119.65 L763.80,119.64 L764.00,119.63 L764.20,119.62 L764.40,119.61 L764.60,119.60 L764.80,119.59 L765.00,119.59 L765.20,119.58 L765.40,119.57 L765.60,119.56 L765.80,119.55 L766.00,119.54 L766.20,119.53 L766.40,119.53 L766.60,119.52 L766.80,119.51 L767.00,119.50 L767.20,119.49 L767.40,119.48 L767.60,119.47 L767.80,119.47 L768.00,119.46 L768.20,119.45 L768.40,119.44 L768.60,119.43 L768.80,119.42 L769.00,119.41 L769.20,119.41 L769.40,119.40" fill="none" stroke="#000" stroke-width="2.5" stroke-linejoin="round" stroke-linecap="round"/>
<polyline points="185.40,242.60 187.20,243.60 190.30,248.50 192.70,253.30 195.10,259.30 197.50,265.40 199.30,270.80 202.30,276.30 206.00,281.70 210.00,287.20 215.10,291.30 220.30,294.90 225.40,297.50 230.60,300.60 235.70,303.10 240.80,304.70 251.10,307.20 261.40,309.30 271.70,311.40 282.00,313.10 290.00,314.40 302.10,315.30 318.20,317.80 334.30,320.20 348.70,322.60 363.20,323.10 366.40,324.70 380.90,325.30 390.60,327.90" fill="none" stroke="#000" stroke-width="2.5" stroke-linejoin="round" stroke-linecap="round"/>
<path d="M201.92,271.54 L202.12,271.62 L202.32,271.70 L202.53,271.78 L202.73,271.86 L202.93,271.93 L203.14,272.01 L203.34,272.09 L203.54,272.17 L203.74,272.24 L203.95,272.32 L204.15,272.40 L204.35,272.48 L204.56,272.56 L204.76,272.63 L204.96,272.71 L205.16,272.79 L205.37,272.87 L205.57,272.94 L205.77,273.02 L205.98,273.10 L206.18,273.18 L206.38,273.26 L206.58,273.33 L206.79,273.41 L206.99,273.49 L207.19,273.57 M213.63,279.55 L213.83,279.62 L214.03,279.70 L214.24,279.78 L214.44,279.85 L214.64,279.93 L214.84,280.01 L215.05,280.08 L215.25,280.16 L215.45,280.24 L215.65,280.32 L215.86,280.39 L216.06,280.47 L216.26,280.55 L216.46,280.62 L216.67,280.70 L216.87,280.78 L217.07,280.85 L217.27,280.93 L217.48,281.01 L217.68,281.08 L217.88,281.16 L218.08,281.24 L218.29,281.32 L218.49,281.39 L218.69,281.47 M225.62,286.80 L225.83,286.99 L226.03,287.17 L226.24,287.36 L226.44,287.54 L226.64,287.72 L226.85,287.91 L227.05,288.09 L227.26,288.28 L227.46,288.46 L227.66,288.64 L227.87,288.83 L228.07,289.01 L228.28,289.20 L228.48,289.38 L228.68,289.56 L228.89,289.75 L229.09,289.93 L229.30,290.12 L229.50,290.30 M238.13,293.79 L238.33,293.82 L238.53,293.86 L238.73,293.89 L238.93,293.92 L239.14,293.95 L239.34,293.99 L239.54,294.02 L239.74,294.05 L239.95,294.08 L240.15,294.12 L240.35,294.15 L240.55,294.18 L240.75,294.22 L240.96,294.25 L241.16,294.28 L241.36,294.31 L241.56,294.35 L241.77,294.38 L241.97,294.41 L242.17,294.44 L242.37,294.48 L242.57,294.51 L242.78,294.54 L242.98,294.57 L243.18,294.61 L243.38,294.64 L243.58,294.67 L243.79,294.70 L243.99,294.74 L244.19,294.77 L244.39,294.80 M254.63,296.76 L254.84,296.80 L255.04,296.84 L255.25,296.88 L255.45,296.91 L255.66,296.95 L255.86,296.99 L256.07,297.02 L256.27,297.06 L256.48,297.10 L256.69,297.14 L256.89,297.18 L257.09,297.21 L257.30,297.25 L257.50,297.29 L257.71,297.32 L257.91,297.36 L258.12,297.40 L258.32,297.44 L258.53,297.48 L258.73,297.51 L258.94,297.55 L259.14,297.59 L259.35,297.62 L259.56,297.66 L259.76,297.70 L259.96,297.74 L260.17,297.77 L260.38,297.81 L260.58,297.85 L260.78,297.89 M270.04,300.86 L270.24,300.90 L270.44,300.94 L270.65,300.98 L270.86,301.01 L271.06,301.05 L271.27,301.09 L271.47,301.12 L271.68,301.16 L271.88,301.20 L272.09,301.24 L272.29,301.28 L272.50,301.31 L272.70,301.35 L272.91,301.39 L273.11,301.43 L273.31,301.46 L273.52,301.50 L273.73,301.54 L273.93,301.58 L274.13,301.61 L274.34,301.65 L274.55,301.69 L274.75,301.73 L274.96,301.76 L275.16,301.80 L275.37,301.84 L275.57,301.88 L275.78,301.91 L275.98,301.95 L276.19,301.99 M287.70,302.72 L287.90,302.74 L288.10,302.75 L288.30,302.77 L288.50,302.78 L288.70,302.80 L288.90,302.81 L289.10,302.83 L289.30,302.84 L289.50,302.86 L289.70,302.87 L289.90,302.89 L290.10,302.90 L290.30,302.92 L290.50,302.93 L290.70,302.94 L290.90,302.96 L291.10,302.98 L291.30,302.99 L291.50,303.00 L291.70,303.02 L291.90,303.04 L292.10,303.05 L292.30,303.06 L292.50,303.08 L292.70,303.10 L292.90,303.11 L293.10,303.12 L293.30,303.14 L293.50,303.16 L293.70,303.17 L293.90,303.19 L294.10,303.20 L294.30,303.22 L294.50,303.23 M305.72,304.23 L305.92,304.25 L306.12,304.27 L306.33,304.30 L306.53,304.32 L306.73,304.35 L306.93,304.37 L307.13,304.39 L307.33,304.42 L307.53,304.44 L307.74,304.47 L307.94,304.49 L308.14,304.51 L308.34,304.54 L308.54,304.56 L308.74,304.58 L308.94,304.61 L309.14,304.63 L309.35,304.65 L309.55,304.68 L309.75,304.70 L309.95,304.73 L310.15,304.75 L310.35,304.77 L310.55,304.80 L310.75,304.82 L310.95,304.85 L311.16,304.87 L311.36,304.89 L311.56,304.92 L311.76,304.94 L311.96,304.96 L312.16,304.99 L312.36,305.01 M323.23,306.29 L323.43,306.32 L323.63,306.34 L323.83,306.37 L324.04,306.39 L324.24,306.41 L324.44,306.44 L324.64,306.46 L324.84,306.48 L325.04,306.51 L325.24,306.53 L325.44,306.56 L325.65,306.58 L325.85,306.60 L326.05,306.63 L326.25,306.65 L326.45,306.67 L326.65,306.70 L326.85,306.72 L327.06,306.75 L327.26,306.77 L327.46,306.79 L327.66,306.82 L327.86,306.84 L328.06,306.86 L328.26,306.89 L328.46,306.91 L328.67,306.94 L328.87,306.96 L329.07,306.98 L329.27,307.01 L329.47,307.03 L329.67,307.05 M340.70,308.32 L340.90,308.34 L341.10,308.37 L341.30,308.39 L341.50,308.41 L341.70,308.43 L341.90,308.45 L342.10,308.48 L342.30,308.50 L342.50,308.52 L342.70,308.55 L342.90,308.57 L343.10,308.59 L343.30,308.61 L343.50,308.63 L343.70,308.66 L343.90,308.68 L344.10,308.70 L344.30,308.73 L344.50,308.75 L344.70,308.77 L344.90,308.79 L345.10,308.81 L345.30,308.84 L345.50,308.86 L345.70,308.88 L345.90,308.90 L346.10,308.93 L346.30,308.95 L346.50,308.97 L346.70,309.00 L346.90,309.02 L347.10,309.04 L347.30,309.06 M357.95,310.54 L358.15,310.57 L358.35,310.60 L358.55,310.63 L358.75,310.66 L358.95,310.69 L359.15,310.72 L359.36,310.75 L359.56,310.78 L359.76,310.81 L359.96,310.84 L360.16,310.87 L360.36,310.90 L360.56,310.93 L360.76,310.96 L360.97,310.99 L361.17,311.02 L361.37,311.05 L361.57,311.08 L361.77,311.11 L361.97,311.14 L362.17,311.17 L362.38,311.20 L362.58,311.23 L362.78,311.26 L362.98,311.29 L363.18,311.32 L363.38,311.35 L363.58,311.38 L363.78,311.41 L363.98,311.44 L364.19,311.47 L364.39,311.50 M375.25,312.85 L375.46,312.87 L375.66,312.89 L375.86,312.92 L376.06,312.94 L376.26,312.96 L376.46,312.99 L376.66,313.01 L376.87,313.03 L377.07,313.06 L377.27,313.08 L377.47,313.11 L377.67,313.13 L377.87,313.15 L378.07,313.18 L378.27,313.20 L378.48,313.23 L378.68,313.25 L378.88,313.27 L379.08,313.30 L379.28,313.32 L379.48,313.34 L379.68,313.37 L379.88,313.39 L380.08,313.41 L380.29,313.44 L380.49,313.46 L380.69,313.49 L380.89,313.51 L381.09,313.53 L381.29,313.56 L381.49,313.58 L381.69,313.61" fill="none" stroke="#000" stroke-width="2.5" stroke-linejoin="round" stroke-linecap="round"/>
<polyline points="391.30,314.20 391.60,315.00" fill="none" stroke="#000" stroke-width="2.5" stroke-linejoin="round" stroke-linecap="round"/>
<polyline points="450.00,243.60 450.80,244.40 455.10,247.30 458.10,251.00 461.10,255.50 464.10,259.30 468.00,265.50 470.90,269.80 473.00,272.40 477.40,275.60 480.00,277.50 486.00,281.80 492.10,284.80 498.10,286.80 504.20,289.00 510.20,290.80 516.30,293.80 522.30,295.60 528.30,296.50 534.40,297.70 540.40,299.30 546.50,300.80 552.50,301.70 560.00,302.50 568.50,303.90 582.00,305.90 588.70,307.30 602.20,308.20 622.50,309.00 630.60,310.60 642.70,312.00 654.90,313.60" fill="none" stroke="#000" stroke-width="2.5" stroke-linejoin="round" stroke-linecap="round"/>
<path d="M464.10,259.30 L464.27,259.50 L464.44,259.71 L464.61,259.91 L464.78,260.12 M471.00,266.38 L471.20,266.52 L471.40,266.66 L471.60,266.80 L471.80,266.94 L472.00,267.08 L472.20,267.22 L472.40,267.36 L472.60,267.50 L472.80,267.64 L473.00,267.78 L473.20,267.92 L473.40,268.06 L473.60,268.20 L473.80,268.34 L474.00,268.48 L474.20,268.62 L474.40,268.76 L474.60,268.90 L474.80,269.04 L475.00,269.18 L475.20,269.32 M483.03,273.68 L483.23,273.83 L483.43,273.98 L483.64,274.14 L483.84,274.29 L484.04,274.44 L484.25,274.60 L484.45,274.75 L484.65,274.90 L484.86,275.06 L485.06,275.21 L485.26,275.36 L485.47,275.52 L485.67,275.67 L485.88,275.82 L486.08,275.98 L486.28,276.13 L486.49,276.29 L486.69,276.44 L486.89,276.59 L487.10,276.75 M494.16,282.16 L494.36,282.26 L494.57,282.37 L494.77,282.47 L494.98,282.58 L495.19,282.69 L495.39,282.79 L495.60,282.90 L495.80,283.00 L496.01,283.11 L496.21,283.21 L496.42,283.32 L496.63,283.43 L496.83,283.53 L497.04,283.64 L497.24,283.74 L497.45,283.85 L497.65,283.95 L497.86,284.06 L498.07,284.17 L498.27,284.27 L498.48,284.38 L498.68,284.48 L498.89,284.59 M509.20,286.43 L509.40,286.49 L509.60,286.55 L509.80,286.62 L510.00,286.68 L510.20,286.74 L510.40,286.80 L510.60,286.86 L510.80,286.92 L511.00,286.98 L511.20,287.05 L511.40,287.11 L511.60,287.17 L511.80,287.23 L512.00,287.29 L512.20,287.35 L512.40,287.42 L512.60,287.48 L512.80,287.54 L513.00,287.60 L513.20,287.66 L513.40,287.72 L513.60,287.78 L513.80,287.85 L514.00,287.91 L514.20,287.97 L514.40,288.03 L514.60,288.09 L514.80,288.15 M525.32,290.00 L525.52,290.07 L525.72,290.13 L525.92,290.20 L526.13,290.27 L526.33,290.33 L526.53,290.40 L526.74,290.47 L526.94,290.53 L527.14,290.60 L527.34,290.67 L527.55,290.73 L527.75,290.80 L527.95,290.87 L528.16,290.93 L528.36,291.00 L528.56,291.07 L528.76,291.13 L528.97,291.20 L529.17,291.27 L529.37,291.33 L529.58,291.40 L529.78,291.47 L529.98,291.53 L530.18,291.60 L530.39,291.67 L530.59,291.73 L530.79,291.80 M540.82,293.85 L541.02,293.86 L541.22,293.86 L541.42,293.87 L541.62,293.88 L541.83,293.88 L542.03,293.89 L542.23,293.89 L542.43,293.90 L542.64,293.91 L542.84,293.91 L543.04,293.92 L543.24,293.93 L543.44,293.93 L543.65,293.94 L543.85,293.94 L544.05,293.95 L544.25,293.96 L544.45,293.96 L544.66,293.97 L544.86,293.98 L545.06,293.98 L545.26,293.99 L545.46,293.99 L545.67,294.00 L545.87,294.01 L546.07,294.01 L546.27,294.02 L546.48,294.03 L546.68,294.03 L546.88,294.04 L547.08,294.04 L547.28,294.05 L547.49,294.06 L547.69,294.06 L547.89,294.07 M558.51,295.69 L558.72,295.70 L558.92,295.71 L559.12,295.73 L559.32,295.74 L559.53,295.76 L559.73,295.77 L559.93,295.79 L560.13,295.80 L560.34,295.81 L560.54,295.83 L560.74,295.84 L560.94,295.86 L561.15,295.87 L561.35,295.89 L561.55,295.90 L561.75,295.91 L561.95,295.93 L562.16,295.94 L562.36,295.96 L562.56,295.97 L562.76,295.99 L562.97,296.00 L563.17,296.01 L563.37,296.03 L563.57,296.04 L563.78,296.06 L563.98,296.07 L564.18,296.09 L564.38,296.10 L564.59,296.11 L564.79,296.13 L564.99,296.14 L565.19,296.16 L565.40,296.17 M575.74,298.08 L575.94,298.09 L576.15,298.10 L576.35,298.10 L576.56,298.11 L576.76,298.12 L576.97,298.13 L577.17,298.14 L577.37,298.15 L577.58,298.16 L577.78,298.17 L577.99,298.17 L578.19,298.18 L578.40,298.19 L578.60,298.20 L578.80,298.21 L579.01,298.22 L579.21,298.23 L579.42,298.23 L579.62,298.24 L579.83,298.25 L580.03,298.26 L580.23,298.27 L580.44,298.28 L580.64,298.29 L580.85,298.30 L581.05,298.30 L581.26,298.31 L581.46,298.32 L581.67,298.33 L581.87,298.34 L582.07,298.35 L582.28,298.36 L582.48,298.37 L582.69,298.37 M593.51,299.80 L593.72,299.80 L593.92,299.80 L594.12,299.80 L594.32,299.80 L594.53,299.80 L594.73,299.80 L594.93,299.80 L595.13,299.80 L595.33,299.80 L595.54,299.80 L595.74,299.80 L595.94,299.80 L596.14,299.80 L596.34,299.80 L596.55,299.80 L596.75,299.80 L596.95,299.80 L597.15,299.80 L597.36,299.80 L597.56,299.80 L597.76,299.80 L597.96,299.80 L598.16,299.80 L598.37,299.80 L598.57,299.80 L598.77,299.80 L598.97,299.80 L599.17,299.80 L599.38,299.80 L599.58,299.80 L599.78,299.80 L599.98,299.80 L600.19,299.80 L600.39,299.80 L600.59,299.80 L600.79,299.80 M611.61,301.20 L611.82,301.20 L612.02,301.20 L612.23,301.20 L612.43,301.20 L612.64,301.20 L612.84,301.20 L613.05,301.20 L613.25,301.20 L613.46,301.20 L613.66,301.20 L613.87,301.20 L614.07,301.20 L614.27,301.20 L614.48,301.20 L614.68,301.20 L614.89,301.20 L615.09,301.20 L615.30,301.20 L615.50,301.20 L615.71,301.20 L615.91,301.20 L616.12,301.20 L616.32,301.20 L616.53,301.20 L616.73,301.20 L616.93,301.20 L617.14,301.20 L617.34,301.20 L617.55,301.20 L617.75,301.20 L617.96,301.20 L618.16,301.20 L618.37,301.20 L618.57,301.20 L618.78,301.20 M630.20,302.00 L630.40,302.00 L630.60,302.00 L630.80,302.00 L631.00,302.00 L631.20,302.00 L631.40,302.00 L631.60,302.00 L631.80,302.00 L632.00,302.00 L632.20,302.00 L632.40,302.00 L632.60,302.00 L632.80,302.00 L633.00,302.00 L633.20,302.00 L633.40,302.00 L633.60,302.00 L633.80,302.00 L634.00,302.00 L634.20,302.00 L634.40,302.00 L634.60,302.00 L634.80,302.00 L635.00,302.00 L635.20,302.00 L635.40,302.00 L635.60,302.00 L635.80,302.00 L636.00,302.00 L636.20,302.00 L636.40,302.00 L636.60,302.00 L636.80,302.00 L637.00,302.00 L637.20,302.00 L637.40,302.00 L637.60,302.00 M647.40,304.30 L647.60,304.30 L647.81,304.30 L648.01,304.30 L648.21,304.30 L648.41,304.30 L648.62,304.30 L648.82,304.30 L649.02,304.30 L649.22,304.30 L649.43,304.30 L649.63,304.30 L649.83,304.30 L650.04,304.30 L650.24,304.30 L650.44,304.30 L650.64,304.30 L650.85,304.30 L651.05,304.30 L651.25,304.30 L651.45,304.30 L651.66,304.30 L651.86,304.30 L652.06,304.30 L652.26,304.30 L652.47,304.30 L652.67,304.30 L652.87,304.30 L653.08,304.30 L653.28,304.30 L653.48,304.30 L653.68,304.30 L653.89,304.30 L654.09,304.30 L654.29,304.30 L654.49,304.30 L654.70,304.30" fill="none" stroke="#000" stroke-width="2.5" stroke-linejoin="round" stroke-linecap="round"/>
</svg>
</body></html>
